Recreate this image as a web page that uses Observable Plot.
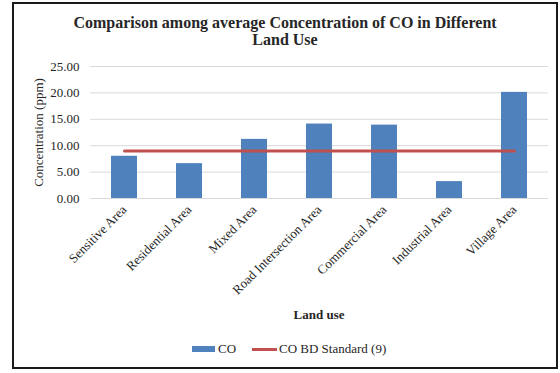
<!DOCTYPE html>
<html>
<head>
<meta charset="utf-8">
<script src="https://cdn.jsdelivr.net/npm/d3@7"></script>
<script src="https://cdn.jsdelivr.net/npm/@observablehq/plot@0.6"></script>
<style>
  html, body { margin: 0; padding: 0; background: #fff; }
  body { width: 560px; height: 373px; position: relative; overflow: hidden; font-family: "Liberation Serif", "Times New Roman", serif; color: #262626; }
  #frame { position: absolute; left: 12px; top: 2px; width: 546px; height: 367px; border: 2px solid #1a1a1a; box-sizing: border-box; }
  #title { position: absolute; left: 13px; width: 544px; top: 14px; text-align: center; font-weight: bold; font-size: 16px; line-height: 17px; }
  #chart { position: absolute; left: 0; top: 50px; }
  #chart svg text { font-family: "Liberation Serif", "Times New Roman", serif; }
  #xlabel { position: absolute; left: 90px; width: 458px; top: 307px; text-align: center; font-weight: bold; font-size: 13px; line-height: 15px; }
  #legend { position: absolute; left: 0; top: 341px; width: 560px; height: 16px; font-size: 13px; line-height: 16px; }
  .sw { position: absolute; }
  .lt { position: absolute; top: 0; white-space: nowrap; }
</style>
</head>
<body>
<div id="frame"></div>
<div id="title">Comparison among average Concentration of CO in Different<br>Land Use</div>
<div id="chart"></div>
<div id="xlabel">Land use</div>
<div id="legend">
  <div class="sw" style="left:192px; top:5px; width:23px; height:6px; background:#4f81bd;"></div>
  <div class="lt" style="left:218px;">CO</div>
  <div class="sw" style="left:252px; top:7px; width:25px; height:3px; background:#c0504d;"></div>
  <div class="lt" style="left:279px;">CO BD Standard (9)</div>
</div>
<script>
const categories = ["Sensitive Area", "Residential Area", "Mixed Area", "Road Intersection Area", "Commercial Area", "Industrial Area", "Village Area"];
const coValues = [8.0, 6.6, 11.2, 14.1, 13.9, 3.2, 20.1];
const standardValues = [9, 9, 9, 9, 9, 9, 9];
const yTicks = [0, 5, 10, 15, 20, 25];

const data = categories.map((c, i) => ({ cat: c, co: coValues[i], std: standardValues[i] }));
const serif = "Liberation Serif, Times New Roman, serif";

const chart = Plot.plot({
  width: 560,
  height: 280,
  marginTop: 16,
  marginBottom: 132,
  marginLeft: 90,
  marginRight: 12,
  style: { fontFamily: serif, fontSize: "13px", color: "#262626", background: "transparent" },
  x: { domain: categories, paddingInner: 0.6, paddingOuter: 0.3 },
  y: { domain: [0, 25] },
  marks: [
    Plot.gridY(yTicks, { stroke: "#d9d9d9", strokeOpacity: 1, strokeWidth: 1 }),
    Plot.barY(data, { x: "cat", y: "co", fill: "#4f81bd" }),
    Plot.lineY(data, { x: "cat", y: "std", stroke: "#c0504d", strokeWidth: 3 }),
    Plot.axisY({ ticks: yTicks, tickFormat: d3.format(".2f"), tickSize: 0, tickPadding: 11, fontSize: 13, fontFamily: serif, label: "Concentration (ppm)", labelAnchor: "center", labelArrow: "none", labelOffset: 57 }),
    Plot.axisX({ tickRotate: -45, tickSize: 0, tickPadding: 9, fontSize: 13, fontFamily: serif, label: null })
  ]
});
document.getElementById("chart").appendChild(chart);
</script>
</body>
</html>
